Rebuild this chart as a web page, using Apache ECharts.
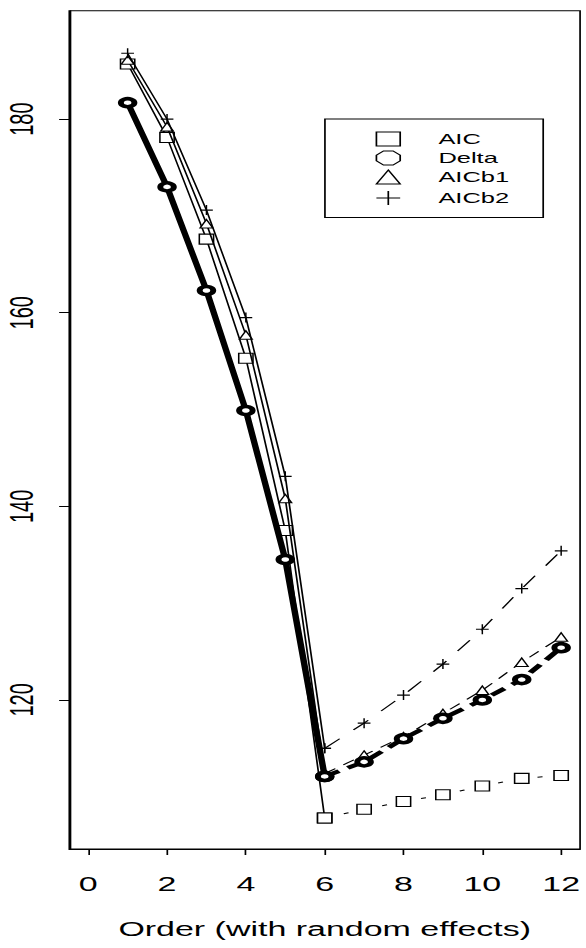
<!DOCTYPE html>
<html><head><meta charset="utf-8">
<script src="https://cdn.jsdelivr.net/npm/echarts@6/dist/echarts.min.js"></script>
<style>
html,body{margin:0;padding:0;background:#fff;overflow:hidden;}
#wrap{width:586px;height:948px;overflow:hidden;background:#fff;}
#chart{width:345px;height:948px;transform:scaleX(1.6986);transform-origin:0 0;}
</style></head>
<body><div id="wrap"><div id="chart"></div></div>
<script>
// ---- data ----
const orders = [1, 2, 3, 4, 5, 6, 7, 8, 9, 10, 11, 12];
const xTicks = [0, 2, 4, 6, 8, 10, 12];
const yTicks = [120, 140, 160, 180];
const seriesNames = ['AIC', 'Delta', 'AICb1', 'AICb2'];
const aic   = [185.7, 178.1, 167.6, 155.3, 137.5, 107.8, 108.7, 109.5, 110.2, 111.1, 111.9, 112.2];
const delta = [181.7, 173.0, 162.3, 149.9, 134.5, 112.1, 113.6, 116.0, 118.1, 120.0, 122.1, 125.4];
const aicb1 = [186.1, 179.2, 169.2, 157.7, 140.8, 112.4, 114.3, 116.2, 118.6, 121.0, 123.9, 126.5];
const aicb2 = [186.8, 180.0, 170.6, 159.5, 143.1, 115.0, 117.6, 120.5, 123.7, 127.3, 131.5, 135.4];
const xTitle = 'Order (with random effects)';

const FONT = '"Liberation Sans", Arial, Helvetica, sans-serif';
const PLUS = 'path://M0,5H10M5,0V10';
const OCT = 'path://M3,0H7L10,3V7L7,10H3L0,7V3Z';

function pts(arr, from, to) {
  const out = [];
  for (let i = 0; i < orders.length; i++) {
    if (orders[i] >= from && orders[i] <= to) out.push([orders[i], arr[i]]);
  }
  return out;
}

const styles = {
  AIC:   { symbol: 'rect', size: [8.4, 10], item: { color: '#fff', borderColor: '#000', borderWidth: 1 }, lw: 1, z: 2, dash: [3, 9] },
  AICb1: { symbol: 'triangle', size: [7.5, 8.5], item: { color: '#fff', borderColor: '#000', borderWidth: 1 }, lw: 1, z: 3, dash: [8, 6] },
  AICb2: { symbol: PLUS, size: [7.5, 10], item: { color: 'none', borderColor: '#000', borderWidth: 1 }, lw: 1, z: 4, dash: [13, 12] },
  Delta: { symbol: 'circle', size: 8, item: { color: '#fff', borderColor: '#000', borderWidth: 3.5 }, lw: 3.8, z: 5, dash: [10, 6] }
};
const data = { AIC: aic, Delta: delta, AICb1: aicb1, AICb2: aicb2 };

const series = [];
['AIC', 'AICb1', 'AICb2', 'Delta'].forEach(function (n) {
  const s = styles[n];
  [[1, 6, 'solid'], [6, 12, s.dash]].forEach(function (part) {
    series.push({
      name: n, type: 'line', data: pts(data[n], part[0], part[1]),
      symbol: s.symbol, symbolSize: s.size, showAllSymbol: true,
      itemStyle: s.item,
      lineStyle: { color: '#000', width: s.lw, type: part[2] },
      z: s.z, silent: true, emphasis: { disabled: true }, animation: false
    });
  });
});

const legendIcons = {
  AIC: 'rect', Delta: OCT, AICb1: 'triangle', AICb2: PLUS
};

const chart = echarts.init(document.getElementById('chart'), null, { renderer: 'svg' });
chart.setOption({
  backgroundColor: '#fff',
  animation: false,
  grid: { left: 40.8, right: 3.5, top: 10.7, bottom: 99, show: true, borderColor: '#000', borderWidth: 1, backgroundColor: 'transparent', outerBoundsMode: 'none' },
  legend: {
    orient: 'vertical', left: 191.3, top: 119,
    padding: [12.5, 20, 10, 27.8],
    itemWidth: 14, itemHeight: 14, itemGap: 4,
    borderColor: '#000', borderWidth: 1, backgroundColor: '#fff',
    selectedMode: false,
    textStyle: { fontFamily: FONT, fontSize: 15, color: '#000', padding: [0, 0, 0, 17.5], lineHeight: 14 },
    data: seriesNames.map(function (n) {
      return { name: n, icon: legendIcons[n],
        itemStyle: { color: n === 'AICb2' ? 'none' : '#fff', borderColor: '#000', borderWidth: 1 } };
    })
  },
  xAxis: {
    type: 'value', min: -0.48, max: 12.48,
    name: xTitle, nameLocation: 'middle', nameGap: 70,
    nameTextStyle: { fontFamily: FONT, fontSize: 20, color: '#000' },
    axisLine: { show: true, onZero: false, lineStyle: { color: '#000', width: 1 } },
    axisTick: { show: true, length: 6, inside: false, customValues: xTicks, lineStyle: { color: '#000', width: 1 } },
    axisLabel: { show: true, customValues: xTicks, margin: 25, fontFamily: FONT, fontSize: 20, color: '#000' },
    splitLine: { show: false }
  },
  yAxis: {
    type: 'value', min: 104.6, max: 191.2,
    axisLine: { show: true, onZero: false, lineStyle: { color: '#000', width: 1 } },
    axisTick: { show: true, length: 6, inside: false, customValues: yTicks, lineStyle: { color: '#000', width: 1 } },
    axisLabel: { show: true, customValues: yTicks, rotate: 90, margin: 18, fontFamily: FONT, fontSize: 20, color: '#000' },
    splitLine: { show: false }
  },
  series: series
});
</script>
</body></html>
